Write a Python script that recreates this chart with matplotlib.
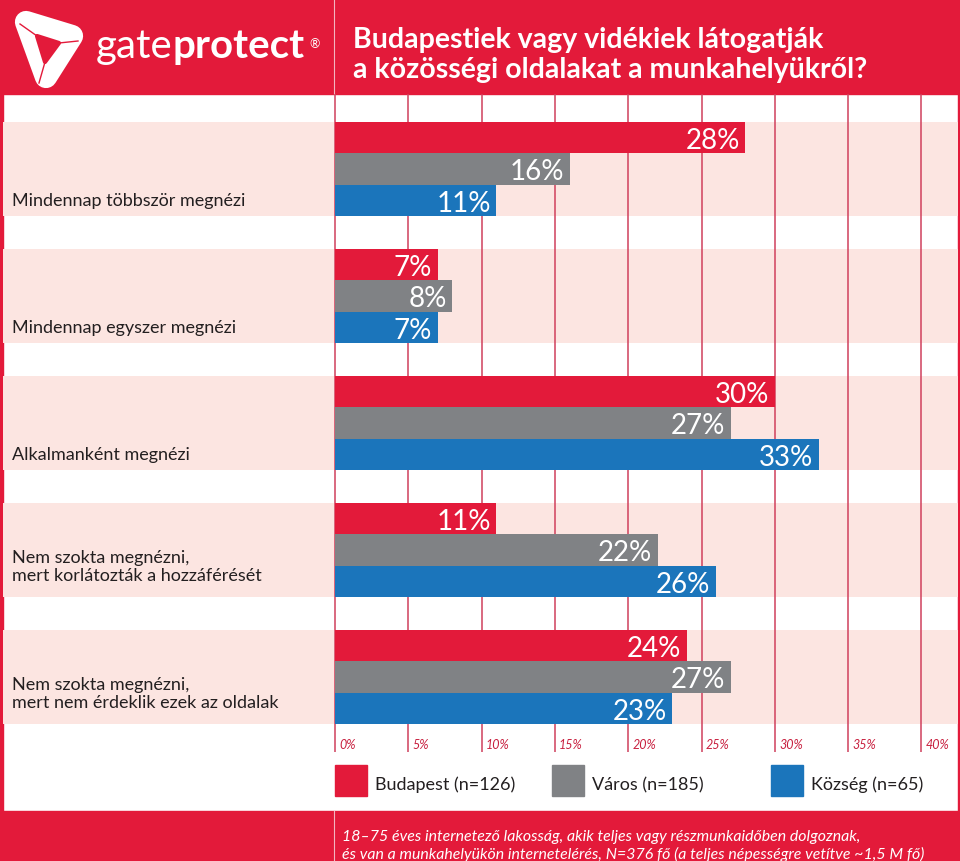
import matplotlib
matplotlib.use('Agg')
import matplotlib.pyplot as plt
from matplotlib.patches import Rectangle, Polygon
import numpy as np

# data
categories = ['Mindennap többször megnézi',
              'Mindennap egyszer megnézi',
              'Alkalmanként megnézi',
              'Nem szokta megnézni,\nmert korlátozták a hozzáférését',
              'Nem szokta megnézni,\nmert nem érdeklik ezek az oldalak']
budapest = [28, 7, 30, 11, 24]
varos = [16, 8, 27, 22, 27]
kozseg = [11, 7, 33, 26, 23]
series_labels = ['Budapest (n=126)', 'Város (n=185)', 'Község (n=65)']
tick_values = [0, 5, 10, 15, 20, 25, 30, 35, 40]

title = 'Budapestiek vagy vidékiek látogatják\na közösségi oldalakat a munkahelyükről?'
footnote = ('18–75 éves internetező lakosság, akik teljes vagy részmunkaidőben dolgoznak,\n'
            'és van a munkahelyükön internetelérés, N=376 fő (a teljes népességre vetítve ~1,5 M fő)')

# colours
RED = '#E31A3A'
GREY = '#808285'
BLUE = '#1B75BB'
PINK = '#FCE5E1'
GRID = '#D0405C'
TEXT = '#231F20'
colors = [RED, GREY, BLUE]

plt.rcParams['font.family'] = ['Lato', 'DejaVu Sans']

fig = plt.figure(figsize=(9.6, 8.62), dpi=100)

# background axes in pixel units (header, footer, legend, borders)
bg = fig.add_axes([0, 0, 1, 1])
bg.set_xlim(0, 960)
bg.set_ylim(862, 0)
bg.axis('off')

bg.add_patch(Rectangle((0, 0), 960, 95, color=RED, zorder=0))
bg.add_patch(Rectangle((0, 812), 960, 50, color=RED, zorder=0))
bg.add_patch(Rectangle((0, 0), 3, 862, color=RED, zorder=0))
bg.add_patch(Rectangle((958, 95), 2, 717, color=RED, zorder=0))
bg.plot([334, 334], [0, 95], color='#F3B5BF', lw=0.8)
bg.plot([334, 334], [812, 862], color='#F3B5BF', lw=0.8)

# logo (rounded triangle ring)
outer = Polygon([[26, 23], [72, 37], [46, 78]], closed=True, facecolor='white',
                edgecolor='white', lw=16, joinstyle='round')
hole = Polygon([[37, 37], [59, 44], [45, 63]], closed=True, facecolor=RED,
               edgecolor=RED, lw=3, joinstyle='round')
bg.add_patch(outer)
bg.add_patch(hole)
for a, b in [([37, 37], [20, 25]), ([59, 44], [78, 42]), ([45, 63], [39, 84])]:
    bg.plot([a[0], b[0]], [a[1], b[1]], color=RED, lw=1.0)
gate = bg.text(96, 58, 'gate', color='white', fontsize=29, fontweight='normal',
               va='baseline', ha='left')
prot = bg.annotate('protect', xy=(1, 0), xycoords=gate, color='white', fontsize=29,
                   fontweight='bold', va='bottom', ha='left')
bg.annotate('®', xy=(1, 1), xycoords=prot, xytext=(3, -7), textcoords='offset points',
            color='white', fontsize=9, va='top', ha='left')

# title
bg.text(353, 55, title, color='white', fontsize=20.5, fontweight='bold',
        va='center', ha='left', linespacing=1.2)

# footnote
bg.text(342, 846, footnote, color='white', fontsize=11.4, style='italic',
        va='center', ha='left', linespacing=1.25)

# chart axes: 0% at x=335px, 14.66 px per percent
px_per = 14.66
x0 = 335
ax = fig.add_axes([3 / 960, (862 - 753) / 862, 955 / 960, (753 - 95) / 862])
ax.set_xlim((3 - x0) / px_per, (958 - x0) / px_per)
ax.set_ylim(753, 95)
ax.axis('off')

first_top = 123
step = 127
bar_h = 31.3
tops = first_top + step * np.arange(len(categories))

for t in tops:
    ax.axhspan(t, t + 3 * bar_h, color=PINK, zorder=0, lw=0)
for v in tick_values:
    ax.axvline(v, color=GRID, lw=1.1, zorder=1)
    ax.annotate(f'{v}%', xy=(v, 0), xycoords=('data', 'axes fraction'),
                xytext=(3, 1.5), textcoords='offset points', color='#C8203F',
                fontsize=9, style='italic', ha='left', va='bottom')

for k, vals in enumerate([budapest, varos, kozseg]):
    ys = tops + k * bar_h
    ax.barh(ys, vals, height=bar_h, align='edge', color=colors[k], zorder=2, lw=0)
    for y, v in zip(ys, vals):
        ax.annotate(f'{v}%', xy=(v, y + bar_h / 2), xytext=(-4, 0),
                    textcoords='offset points', color='white', fontsize=20,
                    ha='right', va='center_baseline', zorder=3)

for t, cat in zip(tops, categories):
    n_lines = cat.count('\n') + 1
    yc = t + 2.5 * bar_h if n_lines == 1 else t + 2 * bar_h
    ax.text(0.0095, yc, cat, transform=ax.get_yaxis_transform(), color=TEXT,
            fontsize=13, va='center', ha='left', linespacing=1.15)

# legend
leg_x = [335, 552, 771]
for x, c, lab in zip(leg_x, colors, series_labels):
    bg.add_patch(Rectangle((x, 766), 32, 31, color=c))
    bg.text(x + 40, 790, lab, color=TEXT, fontsize=13, va='baseline', ha='left')

fig.savefig('out.png', dpi=100)
